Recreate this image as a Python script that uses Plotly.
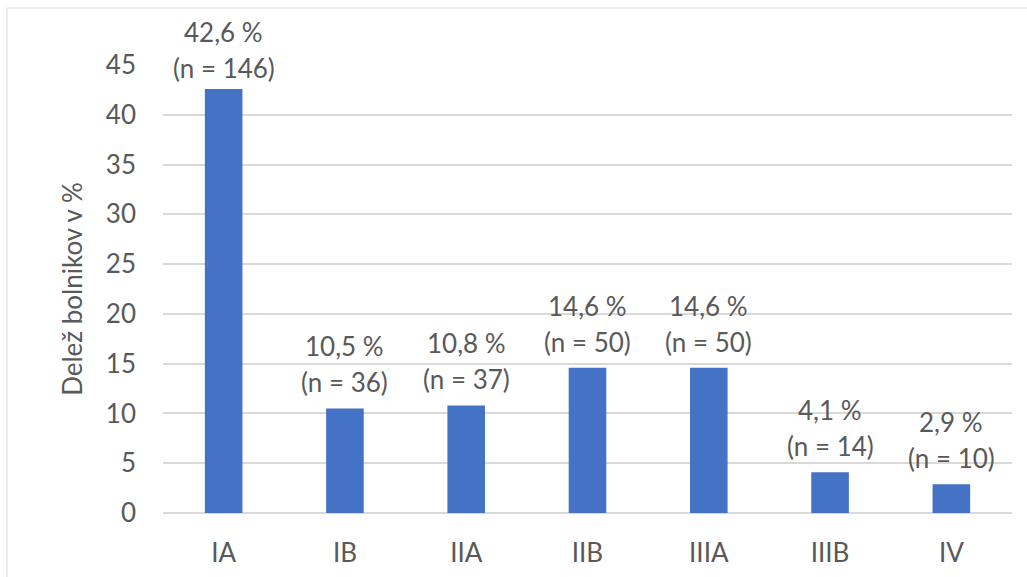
import plotly.graph_objects as go

# Stage categories, share of patients (%) and patient counts
stages = ["IA", "IB", "IIA", "IIB", "IIIA", "IIIB", "IV"]
share_pct = [42.6, 10.5, 10.8, 14.6, 14.6, 4.1, 2.9]
patients_n = [146, 36, 37, 50, 50, 14, 10]
y_ticks = [0, 5, 10, 15, 20, 25, 30, 35, 40, 45]

FONT = "Lato"
TEXT_COLOR = "#595959"
GRID_COLOR = "#d9d9d9"
BAR_COLOR = "#4472c4"

fig = go.Figure(
    go.Bar(
        x=stages,
        y=share_pct,
        marker=dict(color=BAR_COLOR, line=dict(width=0)),
        width=0.31,
        hoverinfo="skip",
    )
)

# Two-line value labels above each bar
annotations = []
for i, (cat, v, n) in enumerate(zip(stages, share_pct, patients_n)):
    lift = 21 if i == 0 else 26
    pct_txt = f"{v:.1f}".replace(".", ",") + " %"
    annotations.append(dict(
        x=cat, y=v, xref="x", yref="y", text=f"(n = {n})", showarrow=False,
        yanchor="middle", yshift=lift, font=dict(family=FONT, size=26, color=TEXT_COLOR),
    ))
    annotations.append(dict(
        x=cat, y=v, xref="x", yref="y", text=pct_txt, showarrow=False,
        yanchor="middle", yshift=lift + 36, font=dict(family=FONT, size=26, color=TEXT_COLOR),
    ))

W, H = 1027, 577
L, R, T, B = 163, 15, 65, 64
pw, ph = W - L - R, H - T - B

fig.update_layout(
    width=W, height=H,
    margin=dict(l=L, r=R, t=T, b=B, pad=0, autoexpand=False),
    paper_bgcolor="white",
    plot_bgcolor="white",
    showlegend=False,
    bargap=0.69,
    annotations=annotations,
    font=dict(family=FONT, color=TEXT_COLOR),
    shapes=[dict(
        type="rect", xref="paper", yref="paper",
        x0=(7 - L) / pw, x1=(1030 - L) / pw,
        y0=(H - B - 580) / ph, y1=(H - B - 8) / ph,
        line=dict(color=GRID_COLOR, width=1), fillcolor="rgba(0,0,0,0)", layer="below",
    )],
)

fig.update_xaxes(
    showgrid=False, showline=False, zeroline=False, ticks="", automargin=False,
    tickfont=dict(family=FONT, size=26, color=TEXT_COLOR),
    ticklabelstandoff=22,
)
fig.update_yaxes(
    range=[0, 45], tickvals=y_ticks, automargin=False,
    showgrid=True, gridcolor=GRID_COLOR, gridwidth=1.5,
    zeroline=True, zerolinecolor=GRID_COLOR, zerolinewidth=1.5,
    showline=False, ticks="",
    tickfont=dict(family=FONT, size=26, color=TEXT_COLOR),
    ticklabelstandoff=26,
    title=dict(text="Delež bolnikov v %", font=dict(family=FONT, size=26, color=TEXT_COLOR), standoff=15),
)

fig.write_html("out.html")
